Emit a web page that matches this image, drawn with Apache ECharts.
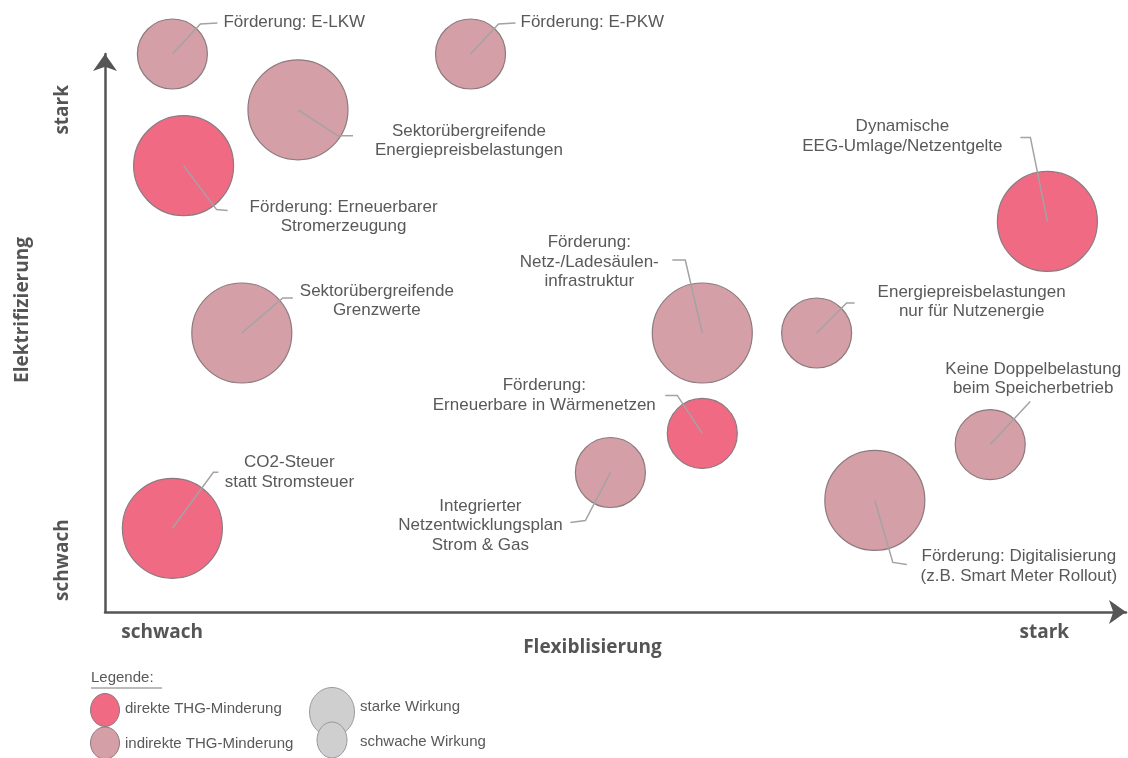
<!DOCTYPE html>
<html>
<head>
<meta charset="utf-8">
<script src="https://cdn.jsdelivr.net/npm/echarts@6/dist/echarts.min.js"></script>
<style>
  html, body { margin: 0; padding: 0; background: #fff; }
  #chart { width: 1128px; height: 758px; }
</style>
</head>
<body>
<div id="chart"></div>
<script>
// Maßnahmen und ihre Einordnung
const measures = [
  'Förderung: E-LKW',
  'Förderung: E-PKW',
  'Sektorübergreifende\nEnergiepreisbelastungen',
  'Förderung: Erneuerbarer\nStromerzeugung',
  'Sektorübergreifende\nGrenzwerte',
  'CO2-Steuer\nstatt Stromsteuer',
  'Förderung:\nNetz-/Ladesäulen-\ninfrastruktur',
  'Energiepreisbelastungen\nnur für Nutzenergie',
  'Dynamische\nEEG-Umlage/Netzentgelte',
  'Förderung:\nErneuerbare in Wärmenetzen',
  'Integrierter\nNetzentwicklungsplan\nStrom & Gas',
  'Keine Doppelbelastung\nbeim Speicherbetrieb',
  'Förderung: Digitalisierung\n(z.B. Smart Meter Rollout)'
];
const flexibilisation = [0.66, 3.58, 1.89, 0.77, 1.34, 0.66, 5.85, 6.97, 9.23, 5.85, 4.95, 8.67, 7.54];
const electrification = [10.0, 10.0, 9.0, 8.0, 5.0, 1.5, 5.0, 5.0, 7.0, 3.2, 2.5, 3.0, 2.0];
const reduction = ['indirekt', 'indirekt', 'indirekt', 'direkt', 'indirekt', 'direkt', 'indirekt',
                   'indirekt', 'direkt', 'direkt', 'indirekt', 'indirekt', 'indirekt'];
const impact = ['schwach', 'schwach', 'stark', 'stark', 'stark', 'stark', 'stark',
                'schwach', 'stark', 'schwach', 'schwach', 'schwach', 'stark'];

// Achsenbeschriftung
const xTickValues = [0.56, 9.2];
const xTickLabels = ['schwach', 'stark'];
const yTickValues = [0.93, 9.0];
const yTickLabels = ['schwach', 'stark'];

// Layout der Beschriftungen (Pixel relativ zum Kreismittelpunkt)
const labelOffset = [[51, -32], [50, -32], [171, 31], [160, 51], [135, -32], [117, -56], [-113, -71],
                     [155, -31], [-145, -85], [-158, -38], [-130, 53], [43, -66], [144, 66]];
const labelAlign = ['left', 'left', 'center', 'center', 'center', 'center', 'center',
                    'center', 'center', 'center', 'center', 'center', 'center'];
const leaderPoints = [
  [[0, 0], [28, -30], [45, -31]],
  [[0, 0], [28, -30], [45, -31]],
  [[0, 0], [40, 26], [55, 26]],
  [[0, 0], [33, 44], [44, 45]],
  [[0, 0], [41, -35], [51, -35]],
  [[0, 0], [41, -56], [46, -56]],
  [[0, 0], [-17, -73], [-30, -73]],
  [[0, 0], [30, -30], [38, -30]],
  [[0, 0], [-17, -84], [-27, -84]],
  [[0, 0], [-25, -38], [-37, -38]],
  [[0, 0], [-25, 48], [-40, 50]],
  [[0, 0], [40, -43]],
  [[0, 0], [18, 62], [32, 64]]
];

const colors = { direkt: '#f06a84', indirekt: '#d59fa8' };
const sizes = { stark: 100, schwach: 70 };

const chart = echarts.init(document.getElementById('chart'));

const bubbleData = measures.map((name, i) => ({
  name: name,
  value: [flexibilisation[i], electrification[i]],
  symbolSize: sizes[impact[i]],
  itemStyle: { color: colors[reduction[i]] },
  label: { offset: labelOffset[i], align: labelAlign[i] }
}));

const axisText = { fontFamily: 'Open Sans', fontWeight: 'bold', fontSize: 19, color: '#555' };
const legendText = { fontFamily: 'Liberation Sans', fontSize: 15, fill: '#595959', verticalAlign: 'middle' };

chart.setOption({
  animation: false,
  grid: { left: 105, right: 2, top: 54, bottom: 146, containLabel: false, outerBoundsMode: 'none' },
  xAxis: {
    type: 'value', min: 0, max: 10,
    name: 'Flexiblisierung', nameLocation: 'middle', nameGap: 26, nameMoveOverlap: false,
    nameTextStyle: Object.assign({ padding: [0, 46, 0, 0] }, axisText),
    axisLine: { show: true, symbol: ['none', 'arrow'], symbolSize: [18, 17],
                lineStyle: { color: '#555', width: 2.5 } },
    axisTick: { show: false },
    splitLine: { show: false },
    axisLabel: Object.assign({
      customValues: xTickValues, margin: 11,
      formatter: v => xTickLabels[xTickValues.indexOf(v)] || ''
    }, axisText)
  },
  yAxis: {
    type: 'value', min: 0, max: 10,
    name: 'Elektrifizierung', nameLocation: 'middle', nameGap: 73, nameMoveOverlap: false,
    nameTextStyle: Object.assign({ padding: [0, 0, 0, 46] }, axisText),
    axisLine: { show: true, symbol: ['none', 'arrow'], symbolSize: [18, 17],
                lineStyle: { color: '#555', width: 2.5 } },
    axisTick: { show: false },
    splitLine: { show: false },
    axisLabel: Object.assign({
      customValues: yTickValues, margin: 33, rotate: 90,
      formatter: v => yTickLabels[yTickValues.indexOf(v)] || ''
    }, axisText)
  },
  series: [
    {
      type: 'scatter',
      clip: false,
      z: 2,
      data: bubbleData,
      itemStyle: { borderColor: '#8c7a7d', borderWidth: 1.2, opacity: 1 },
      label: {
        show: true, position: 'inside',
        formatter: p => p.name,
        fontFamily: 'Liberation Sans', fontSize: 17, lineHeight: 19.5, color: '#595959'
      },
      emphasis: { disabled: true }
    },
    {
      type: 'custom',
      z: 3,
      silent: true,
      data: measures.map((n, i) => [flexibilisation[i], electrification[i]]),
      renderItem: (params, api) => {
        const c = api.coord([api.value(0), api.value(1)]);
        const pts = leaderPoints[params.dataIndex].map(p => [c[0] + p[0], c[1] + p[1]]);
        return {
          type: 'polyline',
          shape: { points: pts },
          style: { stroke: '#a3a3a3', lineWidth: 1.5, fill: null }
        };
      }
    }
  ],
  graphic: [
    { type: 'text', x: 91, y: 678,
      style: Object.assign({ text: 'Legende:', fontSize: 16 }, legendText) },
    { type: 'line', shape: { x1: 91, y1: 688, x2: 162, y2: 688 }, style: { stroke: '#777', lineWidth: 1 } },
    { type: 'ellipse', shape: { cx: 105, cy: 710, rx: 14.5, ry: 16.5 },
      style: { fill: colors.direkt, stroke: '#8c7a7d', lineWidth: 1 } },
    { type: 'ellipse', shape: { cx: 105, cy: 743, rx: 14.5, ry: 16 },
      style: { fill: colors.indirekt, stroke: '#8c7a7d', lineWidth: 1 } },
    { type: 'text', x: 125, y: 709, style: Object.assign({ text: 'direkte THG-Minderung' }, legendText) },
    { type: 'text', x: 125, y: 744, style: Object.assign({ text: 'indirekte THG-Minderung' }, legendText) },
    { type: 'ellipse', shape: { cx: 332, cy: 712, rx: 22.5, ry: 24.5 },
      style: { fill: '#cfcfcf', stroke: '#999', lineWidth: 1 } },
    { type: 'ellipse', shape: { cx: 332, cy: 740, rx: 15, ry: 18 },
      style: { fill: '#cfcfcf', stroke: '#999', lineWidth: 1 } },
    { type: 'text', x: 360, y: 707, style: Object.assign({ text: 'starke Wirkung' }, legendText) },
    { type: 'text', x: 360, y: 742, style: Object.assign({ text: 'schwache Wirkung' }, legendText) }
  ]
});
</script>
</body>
</html>
